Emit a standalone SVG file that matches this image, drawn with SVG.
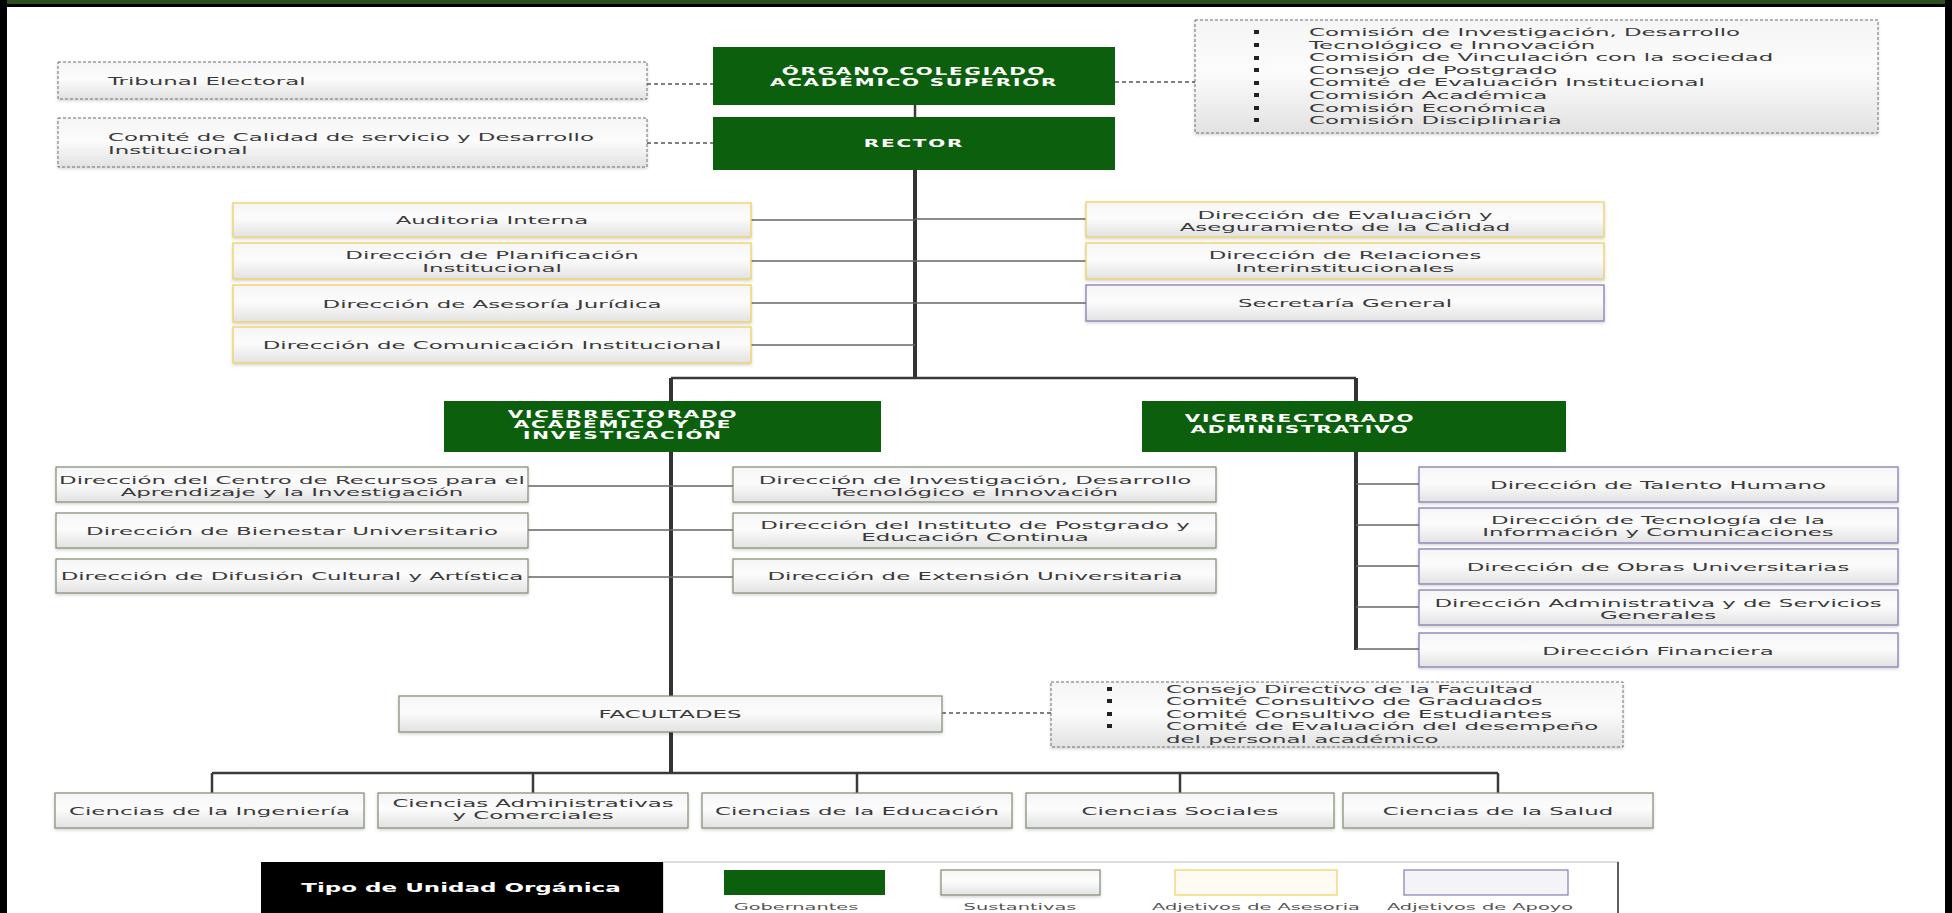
<svg xmlns="http://www.w3.org/2000/svg" width="1952" height="913" viewBox="0 0 1952 913">
<defs>
<linearGradient id="gbox" x1="0" y1="0" x2="0" y2="1">
<stop offset="0" stop-color="#f5f5f5"/>
<stop offset="0.45" stop-color="#fcfcfc"/>
<stop offset="1" stop-color="#e2e2e2"/>
</linearGradient>
<filter id="sh" x="-5%" y="-20%" width="110%" height="150%">
<feDropShadow dx="0" dy="1.5" stdDeviation="1.5" flood-color="#000" flood-opacity="0.18"/>
</filter>
</defs>
<style>
.box{fill:url(#gbox);filter:url(#sh)}
.dash{stroke:#6f6f6f;stroke-width:1;stroke-dasharray:3 2}
.ases{stroke:#efd25e;stroke-width:1.3}
.apoyo{stroke:#8a7cb6;stroke-width:1.3}
.sust{stroke:#7f8c72;stroke-width:1.2}
.gov{fill:#0c5f0c}
.t{font-family:"DejaVu Sans",Verdana,sans-serif;font-size:11px;fill:#3a3a3a;text-anchor:middle}
.tl{font-family:"DejaVu Sans",Verdana,sans-serif;font-size:11px;fill:#3a3a3a;text-anchor:start}
.tw{font-family:"DejaVu Sans",Verdana,sans-serif;font-weight:bold;font-size:10px;fill:#ffffff;text-anchor:middle;letter-spacing:0.9px}
.lg{font-family:"DejaVu Sans",Verdana,sans-serif;font-size:9.5px;fill:#555;text-anchor:middle}
.trunk{stroke:#333;stroke-width:4;fill:none}
.bus{stroke:#3a3a3a;stroke-width:2.5;fill:none}
.br{stroke:#666;stroke-width:1.6;fill:none}
.dl{stroke:#555;stroke-width:1.3;stroke-dasharray:4 3;fill:none}
.bul{fill:#222}
</style>
<rect x="0" y="0" width="1952" height="913" fill="#fff"/>
<g id="frame">
<rect x="0" y="0" width="1952" height="4" fill="#2b4f1f"/>
<rect x="0" y="4" width="1952" height="3" fill="#000"/>
<rect x="0" y="0" width="7" height="913" fill="#000"/>
<rect x="1945" y="0" width="7" height="913" fill="#000"/>
</g>
<g id="connectors">
<line class="bus" x1="915" y1="105" x2="915" y2="117"/>
<line class="trunk" x1="915" y1="170" x2="915" y2="378"/>
<line class="br" x1="751" y1="220" x2="915" y2="220"/>
<line class="br" x1="751" y1="261" x2="915" y2="261"/>
<line class="br" x1="751" y1="303" x2="915" y2="303"/>
<line class="br" x1="751" y1="345" x2="915" y2="345"/>
<line class="br" x1="915" y1="219" x2="1086" y2="219"/>
<line class="br" x1="915" y1="261" x2="1086" y2="261"/>
<line class="br" x1="915" y1="303" x2="1086" y2="303"/>
<line class="bus" x1="671" y1="378" x2="1356" y2="378"/>
<line class="trunk" x1="671" y1="378" x2="671" y2="401"/>
<line class="trunk" x1="1356" y1="378" x2="1356" y2="401"/>
<line class="trunk" x1="671" y1="452" x2="671" y2="696"/>
<line class="trunk" x1="671" y1="732" x2="671" y2="773"/>
<line class="br" x1="528" y1="486" x2="671" y2="486"/>
<line class="br" x1="528" y1="530" x2="671" y2="530"/>
<line class="br" x1="528" y1="577" x2="671" y2="577"/>
<line class="br" x1="671" y1="486" x2="733" y2="486"/>
<line class="br" x1="671" y1="530" x2="733" y2="530"/>
<line class="br" x1="671" y1="577" x2="733" y2="577"/>
<line class="trunk" x1="1356" y1="452" x2="1356" y2="650"/>
<line class="br" x1="1356" y1="484" x2="1419" y2="484"/>
<line class="br" x1="1356" y1="525" x2="1419" y2="525"/>
<line class="br" x1="1356" y1="566" x2="1419" y2="566"/>
<line class="br" x1="1356" y1="607" x2="1419" y2="607"/>
<line class="br" x1="1356" y1="649" x2="1419" y2="649"/>
<line class="bus" x1="212" y1="773" x2="1498" y2="773"/>
<line class="bus" x1="212" y1="773" x2="212" y2="793"/>
<line class="bus" x1="533" y1="773" x2="533" y2="793"/>
<line class="bus" x1="857" y1="773" x2="857" y2="793"/>
<line class="bus" x1="1180" y1="773" x2="1180" y2="793"/>
<line class="bus" x1="1498" y1="773" x2="1498" y2="793"/>
<line class="dl" x1="647" y1="84" x2="713" y2="84"/>
<line class="dl" x1="647" y1="143" x2="713" y2="143"/>
<line class="dl" x1="1115" y1="82" x2="1195" y2="82"/>
<line class="dl" x1="942" y1="713" x2="1051" y2="713"/>
</g>
<g id="tribunal">
<rect class="box dash" x="58" y="62" width="589" height="37"/>
<text class="tl" transform="translate(108 85) scale(2.08 1)">Tribunal Electoral</text>
</g>
<g id="comite">
<rect class="box dash" x="58" y="118" width="589" height="49"/>
<text class="tl" transform="translate(108 140.5) scale(2.08 1)"><tspan x="0">Comité de Calidad de servicio y Desarrollo</tspan><tspan x="0" dy="13.5">Institucional</tspan></text>
</g>
<g id="organo">
<rect class="gov" x="713" y="47" width="402" height="58"/>
<text class="tw" transform="translate(914 74.5) scale(2 1)"><tspan x="0">ÓRGANO COLEGIADO</tspan><tspan x="0" dy="11.5">ACADÉMICO SUPERIOR</tspan></text>
</g>
<g id="rector">
<rect class="gov" x="713" y="117" width="402" height="53"/>
<text class="tw" transform="translate(914 147) scale(2 1)">RECTOR</text>
</g>
<g id="comisiones">
<rect class="box dash" x="1195" y="20" width="683" height="113"/>
<rect class="bul" x="1254" y="30" width="5" height="4"/>
<rect class="bul" x="1254" y="43" width="5" height="4"/>
<rect class="bul" x="1254" y="56" width="5" height="4"/>
<rect class="bul" x="1254" y="68" width="5" height="4"/>
<rect class="bul" x="1254" y="81" width="5" height="4"/>
<rect class="bul" x="1254" y="93" width="5" height="4"/>
<rect class="bul" x="1254" y="106" width="5" height="4"/>
<rect class="bul" x="1254" y="118" width="5" height="4"/>
<text class="tl" transform="translate(1309 36) scale(2.08 1)"><tspan x="0">Comisión de Investigación, Desarrollo</tspan><tspan x="0" dy="12.6">Tecnológico e Innovación</tspan><tspan x="0" dy="12.6">Comisión de Vinculación con la sociedad</tspan><tspan x="0" dy="12.6">Consejo de Postgrado</tspan><tspan x="0" dy="12.6">Comité de Evaluación Institucional</tspan><tspan x="0" dy="12.6">Comisión Académica</tspan><tspan x="0" dy="12.6">Comisión Económica</tspan><tspan x="0" dy="12.6">Comisión Disciplinaria</tspan></text>
</g>
<g id="auditoria">
<rect class="box ases" x="233" y="203" width="518" height="34"/>
<text class="t" transform="translate(492 224) scale(2.08 1)">Auditoria Interna</text>
</g>
<g id="planificacion">
<rect class="box ases" x="233" y="243" width="518" height="36"/>
<text class="t" transform="translate(492 258.5) scale(2.08 1)"><tspan x="0">Dirección de Planificación</tspan><tspan x="0" dy="14">Institucional</tspan></text>
</g>
<g id="asesoria">
<rect class="box ases" x="233" y="285" width="518" height="37"/>
<text class="t" transform="translate(492 307.5) scale(2.08 1)">Dirección de Asesoría Jurídica</text>
</g>
<g id="comunicacion">
<rect class="box ases" x="233" y="327" width="518" height="36"/>
<text class="t" transform="translate(492 349) scale(2.08 1)">Dirección de Comunicación Institucional</text>
</g>
<g id="evaluacion">
<rect class="box ases" x="1086" y="202" width="518" height="35"/>
<text class="t" transform="translate(1345 218.5) scale(2.08 1)"><tspan x="0">Dirección de Evaluación y</tspan><tspan x="0" dy="13">Aseguramiento de la Calidad</tspan></text>
</g>
<g id="relaciones">
<rect class="box ases" x="1086" y="243" width="518" height="36"/>
<text class="t" transform="translate(1345 258.5) scale(2.08 1)"><tspan x="0">Dirección de Relaciones</tspan><tspan x="0" dy="14">Interinstitucionales</tspan></text>
</g>
<g id="secretaria">
<rect class="box apoyo" x="1086" y="285" width="518" height="36"/>
<text class="t" transform="translate(1345 307) scale(2.08 1)">Secretaría General</text>
</g>
<g id="vr-academico">
<rect class="gov" x="444" y="401" width="437" height="51"/>
<text class="tw" transform="translate(623 417.5) scale(2 1)"><tspan x="0">VICERRECTORADO</tspan><tspan x="0" dy="11">ACADÉMICO Y DE</tspan><tspan x="0" dy="11">INVESTIGACIÓN</tspan></text>
</g>
<g id="vr-administrativo">
<rect class="gov" x="1142" y="401" width="424" height="51"/>
<text class="tw" transform="translate(1300 422) scale(2 1)"><tspan x="0">VICERRECTORADO</tspan><tspan x="0" dy="11">ADMINISTRATIVO</tspan></text>
</g>
<g id="centro-recursos">
<rect class="box sust" x="56" y="467" width="472" height="35"/>
<text class="t" transform="translate(292 483.5) scale(2.08 1)"><tspan x="0">Dirección del Centro de Recursos para el</tspan><tspan x="0" dy="13">Aprendizaje y la Investigación</tspan></text>
</g>
<g id="bienestar">
<rect class="box sust" x="56" y="513" width="472" height="35"/>
<text class="t" transform="translate(292 534.5) scale(2.08 1)">Dirección de Bienestar Universitario</text>
</g>
<g id="difusion">
<rect class="box sust" x="56" y="559" width="472" height="34"/>
<text class="t" transform="translate(292 580) scale(2.08 1)">Dirección de Difusión Cultural y Artística</text>
</g>
<g id="investigacion">
<rect class="box sust" x="733" y="467" width="483" height="35"/>
<text class="t" transform="translate(975 483.5) scale(2.08 1)"><tspan x="0">Dirección de Investigación, Desarrollo</tspan><tspan x="0" dy="13">Tecnológico e Innovación</tspan></text>
</g>
<g id="postgrado">
<rect class="box sust" x="733" y="513" width="483" height="35"/>
<text class="t" transform="translate(975 528.5) scale(2.08 1)"><tspan x="0">Dirección del Instituto de Postgrado y</tspan><tspan x="0" dy="13">Educación Continua</tspan></text>
</g>
<g id="extension">
<rect class="box sust" x="733" y="559" width="483" height="34"/>
<text class="t" transform="translate(975 580) scale(2.08 1)">Dirección de Extensión Universitaria</text>
</g>
<g id="talento">
<rect class="box apoyo" x="1419" y="467" width="479" height="35"/>
<text class="t" transform="translate(1658 488.5) scale(2.08 1)">Dirección de Talento Humano</text>
</g>
<g id="tecnologia">
<rect class="box apoyo" x="1419" y="508" width="479" height="35"/>
<text class="t" transform="translate(1658 523.5) scale(2.08 1)"><tspan x="0">Dirección de Tecnología de la</tspan><tspan x="0" dy="13">Información y Comunicaciones</tspan></text>
</g>
<g id="obras">
<rect class="box apoyo" x="1419" y="549" width="479" height="35"/>
<text class="t" transform="translate(1658 570.5) scale(2.08 1)">Dirección de Obras Universitarias</text>
</g>
<g id="administrativa">
<rect class="box apoyo" x="1419" y="590" width="479" height="35"/>
<text class="t" transform="translate(1658 606.5) scale(2.08 1)"><tspan x="0">Dirección Administrativa y de Servicios</tspan><tspan x="0" dy="13">Generales</tspan></text>
</g>
<g id="financiera">
<rect class="box apoyo" x="1419" y="633" width="479" height="34"/>
<text class="t" transform="translate(1658 654.5) scale(2.08 1)">Dirección Financiera</text>
</g>
<g id="facultades">
<rect class="box sust" x="399" y="696" width="543" height="36"/>
<text class="t" transform="translate(670 718) scale(2.08 1)">FACULTADES</text>
</g>
<g id="consejos">
<rect class="box dash" x="1051" y="682" width="572" height="65"/>
<rect class="bul" x="1107" y="687" width="5" height="4"/>
<rect class="bul" x="1107" y="699" width="5" height="4"/>
<rect class="bul" x="1107" y="712" width="5" height="4"/>
<rect class="bul" x="1107" y="724" width="5" height="4"/>
<text class="tl" transform="translate(1166 693) scale(2.08 1)"><tspan x="0">Consejo Directivo de la Facultad</tspan><tspan x="0" dy="12.5">Comité Consultivo de Graduados</tspan><tspan x="0" dy="12.5">Comité Consultivo de Estudiantes</tspan><tspan x="0" dy="12.5">Comité de Evaluación del desempeño</tspan><tspan x="0" dy="12.5">del personal académico</tspan></text>
</g>
<g id="ingenieria">
<rect class="box sust" x="55" y="793" width="309" height="35"/>
<text class="t" transform="translate(209.5 815) scale(2.08 1)">Ciencias de la Ingeniería</text>
</g>
<g id="administrativas">
<rect class="box sust" x="378" y="793" width="310" height="35"/>
<text class="t" transform="translate(533 807) scale(2.08 1)"><tspan x="0">Ciencias Administrativas</tspan><tspan x="0" dy="12.5">y Comerciales</tspan></text>
</g>
<g id="educacion">
<rect class="box sust" x="702" y="793" width="310" height="35"/>
<text class="t" transform="translate(857 815) scale(2.08 1)">Ciencias de la Educación</text>
</g>
<g id="sociales">
<rect class="box sust" x="1026" y="793" width="308" height="35"/>
<text class="t" transform="translate(1180 815) scale(2.08 1)">Ciencias Sociales</text>
</g>
<g id="salud">
<rect class="box sust" x="1343" y="793" width="310" height="35"/>
<text class="t" transform="translate(1498 815) scale(2.08 1)">Ciencias de la Salud</text>
</g>
<g id="leyenda">
<rect x="663" y="862" width="955" height="60" fill="#fff" stroke="#bbb" stroke-width="1"/>
<line x1="1618" y1="862" x2="1618" y2="913" stroke="#333" stroke-width="1.5"/>
<rect x="261" y="862" width="402" height="60" fill="#000"/>
<text class="tw" style="font-size:11.5px;letter-spacing:0" transform="translate(461 892) scale(2 1)">Tipo de Unidad Orgánica</text>
<rect class="gov" x="724" y="870" width="161" height="25"/>
<text class="lg" transform="translate(796 909.5) scale(2.04 1)">Gobernantes</text>
<rect class="box sust" x="941" y="870" width="159" height="25"/>
<text class="lg" transform="translate(1020 909.5) scale(2.04 1)">Sustantivas</text>
<rect x="1175" y="870" width="162" height="25" fill="#fdfbf2" stroke="#efd25e" stroke-width="1.2"/>
<text class="lg" transform="translate(1256 909.5) scale(2.04 1)">Adjetivos de Asesoria</text>
<rect x="1404" y="870" width="164" height="25" fill="#f3f3f8" stroke="#8a7cb6" stroke-width="1.2"/>
<text class="lg" transform="translate(1480 909.5) scale(2.04 1)">Adjetivos de Apoyo</text>
</g>
</svg>
